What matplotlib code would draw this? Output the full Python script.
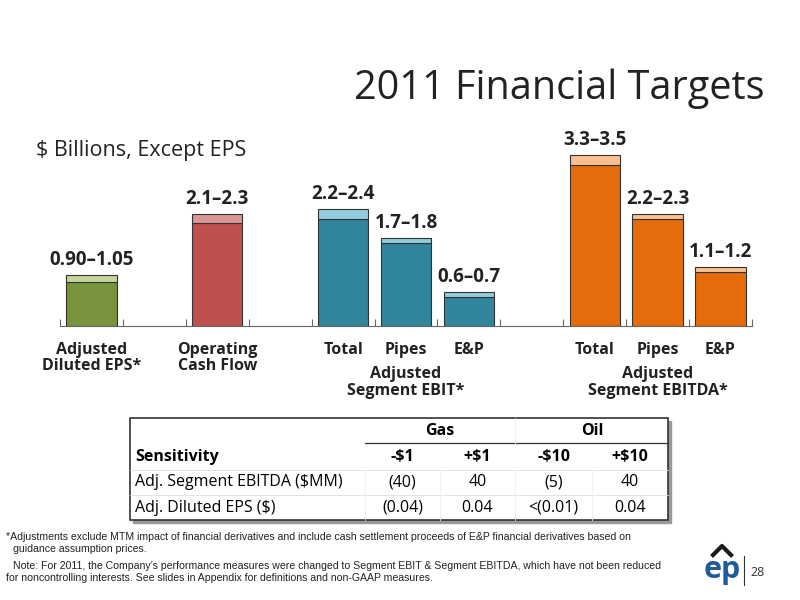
import matplotlib
matplotlib.use('Agg')
import matplotlib.pyplot as plt
from matplotlib.patches import Rectangle

plt.rcParams['font.family'] = ['Open Sans', 'DejaVu Sans']

# bar data: low / high of each target range
positions = [0, 2, 4, 5, 6, 8, 9, 10]
lows = [0.90, 2.1, 2.2, 1.7, 0.6, 3.3, 2.2, 1.1]
highs = [1.05, 2.3, 2.4, 1.8, 0.7, 3.5, 2.3, 1.2]
range_labels = ['0.90–1.05', '2.1–2.3', '2.2–2.4', '1.7–1.8', '0.6–0.7', '3.3–3.5', '2.2–2.3', '1.1–1.2']
dark = ['#77933C', '#C0504D', '#31859C', '#31859C', '#31859C', '#E46C0A', '#E46C0A', '#E46C0A']
light = ['#C3D69B', '#D99694', '#93CDDD', '#93CDDD', '#93CDDD', '#FAC090', '#FAC090', '#FAC090']
tick_labels = ['Adjusted\nDiluted EPS*', 'Operating\nCash Flow', 'Total', 'Pipes', 'E&P', 'Total', 'Pipes', 'E&P']
group_labels = [(5, 'Adjusted\nSegment EBIT*'), (9, 'Adjusted\nSegment EBITDA*')]

# sensitivity table
table_cols = ['Sensitivity', '-$1', '+$1', '-$10', '+$10']
table_rows = [['Adj. Segment EBITDA ($MM)', '(40)', '40', '(5)', '40'],
              ['Adj. Diluted EPS ($)', '(0.04)', '0.04', '<(0.01)', '0.04']]

fig = plt.figure(figsize=(8, 6), dpi=100)
fig.text(0.955, 0.835, '2011 Financial Targets', ha='right', fontsize=28.5, color='#222222')
fig.text(0.045, 0.74, '$ Billions, Except EPS', fontsize=15.5, color='#222222')

ax = fig.add_axes([0.075, 0.457, 0.865, 0.325])
ax.bar(positions, lows, width=0.8, color=dark, edgecolor='#333333', linewidth=0.8)
ax.bar(positions, [h - l for h, l in zip(highs, lows)], bottom=lows, width=0.8,
       color=light, edgecolor='#333333', linewidth=0.8)
for p, h, lab in zip(positions, highs, range_labels):
    ax.text(p, h + 0.1, lab, ha='center', va='bottom', fontsize=13.5, fontweight='bold', color='#222222')
for p, lab in zip(positions, tick_labels):
    ax.text(p, -0.33, lab, ha='center', va='top', fontsize=11.5, fontweight='bold', color='#222222',
            linespacing=1.05)
for p, lab in group_labels:
    ax.text(p, -0.83, lab, ha='center', va='top', fontsize=11.5, fontweight='bold', color='#222222',
            linespacing=1.05)
ax.set_xlim(-0.5, 10.5)
ax.set_ylim(0, 4)
for s in ['top', 'right', 'left']:
    ax.spines[s].set_visible(False)
ax.spines['bottom'].set_color('#666666')
ax.set_yticks([])
ax.set_xticks([x - 0.5 for x in range(12)])
ax.set_xticklabels([])
ax.tick_params(axis='x', direction='in', length=5, color='#666666')

# table drawn on a figure-sized axes in pixel coordinates
tx = fig.add_axes([0, 0, 1, 1])
tx.set_xlim(0, 800)
tx.set_ylim(600, 0)
tx.axis('off')
col_x = [130, 365, 440, 515, 592, 668]
row_y = [418, 443, 470, 495, 520]
tx.add_patch(Rectangle((133, 421), 538, 102, color='#999999', zorder=0))
tx.add_patch(Rectangle((col_x[0], row_y[0]), col_x[-1] - col_x[0], row_y[-1] - row_y[0],
                       facecolor='white', edgecolor='#333333', linewidth=1.2, zorder=1))
tx.plot([365, 668], [443, 443], color='#333333', lw=0.9)
for y in row_y[2:4]:
    tx.plot([130, 668], [y, y], color='#dddddd', lw=0.6)
for x in col_x[1:-1]:
    tx.plot([x, x], [row_y[2], row_y[-1]], color='#eeeeee', lw=0.6)
tx.plot([515, 515], [418, 443], color='#eeeeee', lw=0.6)
fs = 11.5
tx.text(440, 431, 'Gas', ha='center', va='center', fontsize=fs, fontweight='bold')
tx.text(592, 431, 'Oil', ha='center', va='center', fontsize=fs, fontweight='bold')
tx.text(135, 457, table_cols[0], ha='left', va='center', fontsize=fs, fontweight='bold')
for i, c in enumerate(table_cols[1:]):
    tx.text((col_x[i + 1] + col_x[i + 2]) / 2, 457, c, ha='center', va='center', fontsize=fs, fontweight='bold')
for r, row in enumerate(table_rows):
    ym = (row_y[r + 2] + row_y[r + 3]) / 2
    tx.text(135, ym, row[0], ha='left', va='center', fontsize=fs)
    for i, v in enumerate(row[1:]):
        tx.text((col_x[i + 1] + col_x[i + 2]) / 2, ym, v, ha='center', va='center', fontsize=fs)

fn = dict(fontsize=7.6, family='Liberation Sans', color='#222222')
tx.text(6, 537, '*Adjustments exclude MTM impact of financial derivatives and include cash settlement proceeds of E&P financial derivatives based on',
        va='center', **fn)
tx.text(13, 549, 'guidance assumption prices.', va='center', **fn)
tx.text(13, 566, 'Note: For 2011, the Company\u2019s performance measures were changed to Segment EBIT & Segment EBITDA, which have not been reduced',
        va='center', **fn)
tx.text(6, 578, 'for noncontrolling interests. See slides in Appendix for definitions and non-GAAP measures.', va='center', **fn)

# logo and page number
tx.text(722, 570, 'ep', ha='center', va='center', fontsize=22, fontweight='bold', color='#1F5C99')
tx.plot([713, 722, 731], [555, 546, 555], color='#1a1a1a', lw=3)
tx.plot([744, 744], [556, 585], color='#333333', lw=0.8)
tx.text(750, 572, '28', ha='left', va='center', fontsize=9, color='#333333')

fig.savefig('out.png', dpi=100)
